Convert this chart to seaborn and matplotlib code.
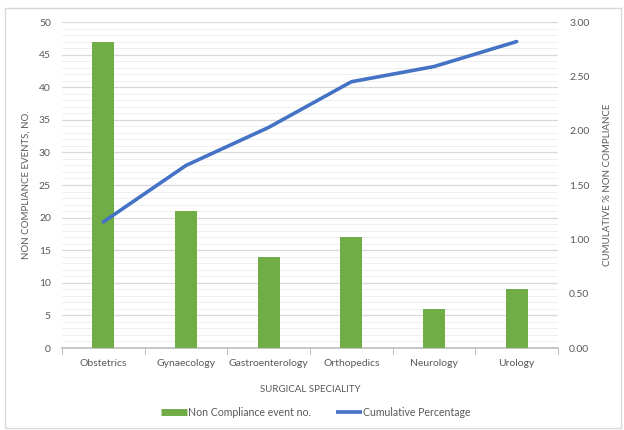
import matplotlib
matplotlib.use("Agg")
import matplotlib.pyplot as plt
from matplotlib.lines import Line2D
from matplotlib.patches import Rectangle
from matplotlib.ticker import MultipleLocator, FormatStrFormatter
import seaborn as sns
import pandas as pd

specialities = ["Obstetrics", "Gynaecology", "Gastroenterology", "Orthopedics", "Neurology", "Urology"]
events = [47, 21, 14, 17, 6, 9]
cumulative = [1.16, 1.68, 2.03, 2.45, 2.59, 2.82]

sns.set_theme(style="white")
plt.rcParams["font.family"] = ["Lato", "DejaVu Sans"]

BAR = "#70AD47"
LINE = "#4472C4"
TXT = "#595959"

df = pd.DataFrame({"spec": specialities, "events": events, "cum": cumulative})

fig = plt.figure(figsize=(6.24, 4.30), dpi=100)
fig.patches.append(Rectangle((5 / 624, 2 / 430), 616 / 624, 420 / 430, transform=fig.transFigure,
                             fill=False, edgecolor="#d9d9d9", linewidth=1.0))
ax = fig.add_axes([62 / 624, 1 - 348 / 430, 496 / 624, 326 / 430])

sns.barplot(data=df, x="spec", y="events", color=BAR, width=0.27, ax=ax, zorder=3,
            saturation=1, linewidth=0)
ax.set_ylim(0, 50)
ax.set_xlim(-0.5, 5.5)
ax.yaxis.set_major_locator(MultipleLocator(5))
ax.yaxis.set_minor_locator(MultipleLocator(1))
ax.grid(which="major", axis="y", color="#d9d9d9", linewidth=0.9, zorder=0)
ax.grid(which="minor", axis="y", color="#efefef", linewidth=0.7, zorder=0)
ax.set_axisbelow(True)
for s in ["top", "right", "left"]:
    ax.spines[s].set_visible(False)
ax.spines["bottom"].set_color("#bfbfbf")
ax.tick_params(axis="y", which="both", length=0, labelsize=7.5, labelcolor=TXT, pad=8)
ax.tick_params(axis="x", length=0, labelsize=7.5, labelcolor=TXT, pad=8)
# category separator ticks on the x axis
for xb in [i - 0.5 for i in range(7)]:
    ax.plot([xb, xb], [0, -0.9], color="#bfbfbf", lw=0.8, clip_on=False, zorder=4)
ax.set_xlabel("SURGICAL SPECIALITY", fontsize=7, color=TXT, labelpad=12)
ax.set_ylabel("NON COMPLIANCE EVENTS, NO.", fontsize=7, color=TXT, labelpad=6)

ax2 = ax.twinx()
sns.lineplot(data=df, x="spec", y="cum", color=LINE, linewidth=2.6, sort=False, ax=ax2, zorder=5)
ax2.set_ylim(0, 3)
ax2.set_xlim(-0.5, 5.5)
ax2.yaxis.set_major_locator(MultipleLocator(0.5))
ax2.yaxis.set_major_formatter(FormatStrFormatter("%.2f"))
for s in ["top", "right", "left", "bottom"]:
    ax2.spines[s].set_visible(False)
ax2.tick_params(axis="y", length=0, labelsize=7.5, labelcolor=TXT, pad=8)
ax2.set_ylabel("CUMULATIVE % NON COMPLIANCE", fontsize=7, color=TXT, labelpad=10, rotation=90)
ax2.set_xlabel("")

handles = [Line2D([0], [0], color=BAR, lw=5, solid_capstyle="butt"),
           Line2D([0], [0], color=LINE, lw=2.6, solid_capstyle="butt")]
fig.legend(handles, ["Non Compliance event no.", "Cumulative Percentage"],
           loc="center", bbox_to_anchor=(316 / 624, 1 - 412 / 430), ncol=2, frameon=False,
           fontsize=7.6, labelcolor=TXT, handlelength=2.4, handletextpad=0.15, columnspacing=2.4)

fig.savefig("out.png", dpi=100)
